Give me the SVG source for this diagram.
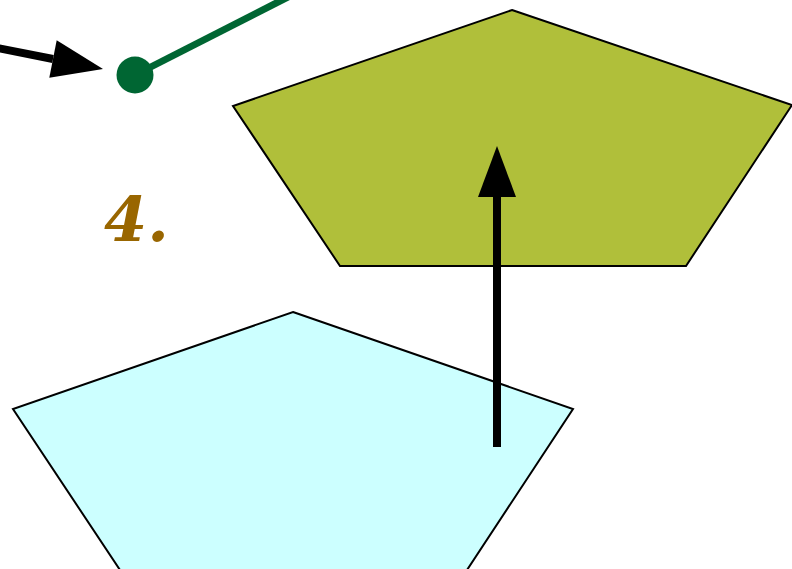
<svg xmlns="http://www.w3.org/2000/svg" width="792" height="569" viewBox="0 0 792 569">
  <style>
    .pent { stroke: #000; stroke-width: 2; stroke-linejoin: miter; }
    .arrow { stroke: #000; stroke-width: 8; fill: none; }
    .label { font-family: "DejaVu Serif", "Liberation Serif", serif; font-weight: bold; font-style: italic; fill: #996600; }
  </style>
  <defs>
    <marker id="head" markerUnits="userSpaceOnUse" markerWidth="52" markerHeight="40" refX="0" refY="19" orient="auto" viewBox="0 0 52 38" overflow="visible">
      <path d="M0,0 L51,19 L0,38 Z" fill="#000"/>
    </marker>
  </defs>
  <rect width="792" height="569" fill="#fff"/>
  <g id="pentagon-top">
    <polygon class="pent" fill="#b0bf3a" points="512,10 792,105 686,266 340,266 233,106"/>
  </g>
  <g id="pentagon-bottom">
    <polygon class="pent" fill="#ccffff" points="293,312 573,409 467,570 120,570 13,409"/>
  </g>
  <g id="label-4">
    <text class="label" x="104" y="241" font-size="62">4.</text>
  </g>
  <g id="connectors">
    <line class="arrow" x1="497" y1="447" x2="497" y2="197" marker-end="url(#head)"/>
    <line class="arrow" x1="-2" y1="48.1" x2="53" y2="59" marker-end="url(#head)"/>
    <line x1="135" y1="75" x2="292" y2="-5" stroke="#006633" stroke-width="7"/>
    <circle cx="135" cy="75" r="18.5" fill="#006633"/>
  </g>
</svg>
